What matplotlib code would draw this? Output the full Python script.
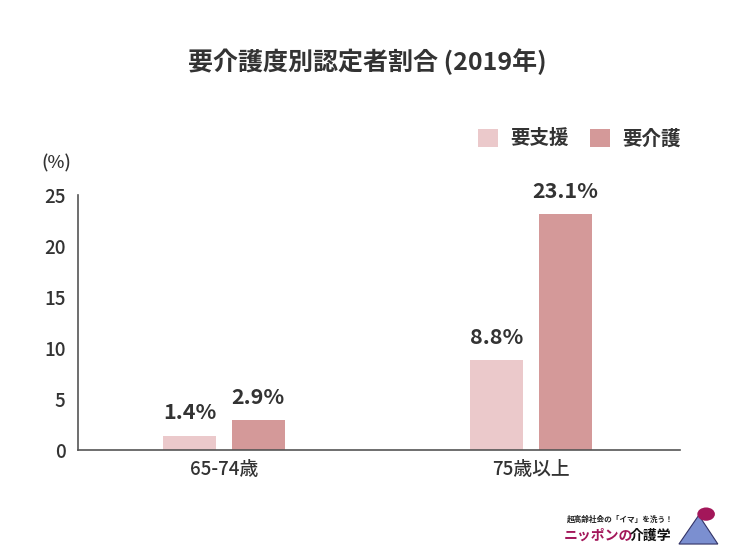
import matplotlib

matplotlib.use("Agg")
import matplotlib.pyplot as plt
import numpy as np

plt.rcParams["font.family"] = ["Noto Sans CJK JP", "DejaVu Sans"]

categories = ["65-74歳", "75歳以上"]
series_names = ["要支援", "要介護"]
support_vals = [1.4, 8.8]
care_vals = [2.9, 23.1]
colors = ["#ebc9cb", "#d49999"]
text_color = "#333333"

fig = plt.figure(figsize=(7.34, 5.54), dpi=100)
ax = fig.add_axes([0.1063, 0.1877, 0.8197, 0.4603])

x = np.arange(len(categories))
offset = 0.112
width = 0.173
for vals, name, col, sign in [(support_vals, series_names[0], colors[0], -1),
                              (care_vals, series_names[1], colors[1], 1)]:
    bars = ax.bar(x + sign * offset, vals, width, color=col, label=name)
    for b, v in zip(bars, vals):
        ax.text(b.get_x() + b.get_width() / 2, v + 1.2, f"{v:.1f}%",
                ha="center", va="bottom", fontsize=15.5, fontweight="bold",
                color=text_color)

ax.set_xlim(-0.475, 1.485)
ax.set_ylim(0, 25)
ax.set_yticks([0, 5, 10, 15, 20, 25])
ax.set_xticks(x)
ax.set_xticklabels(categories)
ax.tick_params(axis="both", length=0, labelsize=13.5, colors=text_color)
ax.tick_params(axis="y", pad=9)
ax.tick_params(axis="x", pad=7)
for lbl in ax.get_xticklabels() + ax.get_yticklabels():
    lbl.set_fontweight("medium")
for s in ["top", "right"]:
    ax.spines[s].set_visible(False)
for s in ["left", "bottom"]:
    ax.spines[s].set_color("#555555")
    ax.spines[s].set_linewidth(1.2)

fig.text(0.5, 0.888, "要介護度別認定者割合 (2019年)", ha="center", va="center",
         fontsize=18, fontweight="bold", color=text_color)
fig.text(0.077, 0.705, "(%)", ha="center", va="center", fontsize=13,
         fontweight="medium", color=text_color)

leg = fig.legend(loc="center right", bbox_to_anchor=(0.951, 0.75), ncol=2,
                 frameon=False, fontsize=14, handlelength=1.05, handleheight=1.05,
                 handletextpad=0.6, columnspacing=1.1)
for t in leg.get_texts():
    t.set_fontweight("bold")
    t.set_color(text_color)

# logo
fig.text(0.772, 0.062, "超高齢社会の「イマ」を洗う！", fontsize=5.5,
         fontweight="bold", color="#222222", ha="left", va="center")
fig.text(0.768, 0.033, "ニッポンの", fontsize=10, fontweight="bold",
         color="#a3175a", ha="left", va="center")
fig.text(0.858, 0.033, "介護学", fontsize=10, fontweight="bold",
         color="#111111", ha="left", va="center")
fig.patches.append(plt.Polygon([[0.925, 0.018], [0.952, 0.07], [0.978, 0.018]],
                               closed=True, transform=fig.transFigure,
                               facecolor="#7b8fd0", edgecolor="#333366", lw=0.8))
fig.patches.append(plt.Circle((0.962, 0.072), 0.012, transform=fig.transFigure,
                              facecolor="#a3175a", edgecolor="none"))

fig.savefig("out.png", dpi=100)
